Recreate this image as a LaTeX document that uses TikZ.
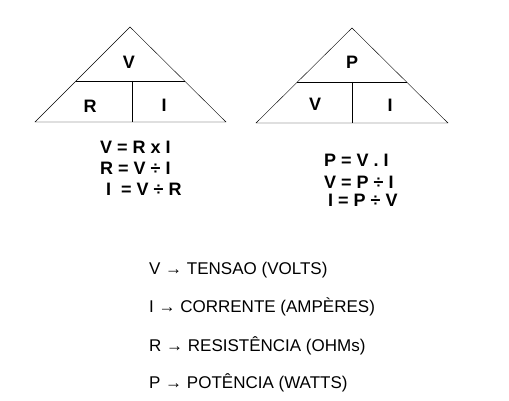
\documentclass[tikz,border=0pt]{standalone}
\usepackage{fontspec}
\setmainfont{Liberation Sans}
\usepackage{tikz}
\usetikzlibrary{calc}

\begin{document}
\begin{tikzpicture}[x=1pt,y=-1pt,
  letter/.style={font=\fontsize{18}{18}\selectfont\bfseries, inner sep=0pt},
  formula/.style={font=\fontsize{18}{18}\selectfont\bfseries, inner sep=0pt, anchor=west},
  legend/.style={font=\fontsize{17}{17}\selectfont, inner sep=0pt, anchor=west}
]
\useasboundingbox (0,0) rectangle (509,401);
% triangle V R I
\coordinate (vtop) at (130,27);
\coordinate (vleft) at (35,122);
\coordinate (vright) at (226,122);
\draw (vleft) -- (vtop) -- (vright) -- cycle;
\draw ($(vleft)!0.43!(vtop)$) -- ($(vright)!0.43!(vtop)$);
\draw (132,81) -- (132,122);
\node[letter] (v1) at (129,62) {V};
\node[letter] (r1) at (90,106) {R};
\node[letter] (i1) at (164,105) {I};
% triangle P V I
\coordinate (ptop) at (352,28);
\coordinate (pleft) at (256,123);
\coordinate (pright) at (448,123);
\draw (pleft) -- (ptop) -- (pright) -- cycle;
\draw ($(pleft)!0.43!(ptop)$) -- ($(pright)!0.43!(ptop)$);
\draw (352,82) -- (352,123);
\node[letter] (p2) at (352,62) {P};
\node[letter] (v2) at (315,104) {V};
\node[letter] (i2) at (390,105) {I};
% formulas
\node[formula] (eqa1) at (100,147) {V = R x I};
\node[formula] (eqa2) at (100,168) {R = V ÷ I};
\node[formula] (eqa3) at (106,189) {I \ = V ÷ R};
\node[formula] (eqb1) at (324,160) {P = V . I};
\node[formula] (eqb2) at (324,182) {V = P ÷ I};
\node[formula] (eqb3) at (328,200) {I = P ÷ V};
% legend
\node[legend] (tensao) at (149,270) {V → TENSAO (VOLTS)};
\node[legend] (corrente) at (149,307) {I → CORRENTE (AMPÈRES)};
\node[legend] (resist) at (149,346) {R → RESISTÊNCIA (OHMs)};
\node[legend] (potencia) at (149,383) {P → POTÊNCIA (WATTS)};
\end{tikzpicture}
\end{document}
